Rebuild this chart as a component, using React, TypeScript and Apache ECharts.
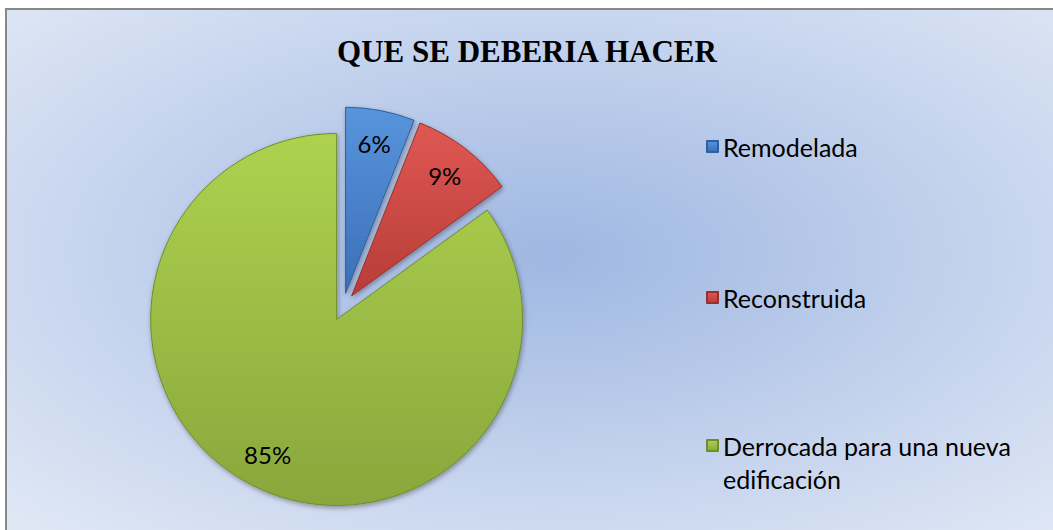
import React, { useEffect, useRef } from "react";
import * as echarts from "echarts";

const chartTitle = "QUE SE DEBERIA HACER";
const categories = ["Remodelada", "Reconstruida", "Derrocada para una nueva edificación"];
const values = [6, 9, 85];
const sliceColors = [
  { top: "#5894dc", bottom: "#3b6fb8", border: "#2f5f9f" },
  { top: "#df5853", bottom: "#b83c38", border: "#9a302d" },
  { top: "#add24f", bottom: "#89a73c", border: "#6f8d2c" },
];

const LABEL_FONT = "Lato, 'Noto Sans', sans-serif";

function grad(c: { top: string; bottom: string }) {
  return new echarts.graphic.LinearGradient(0, 0, 0, 1, [
    { offset: 0, color: c.top },
    { offset: 1, color: c.bottom },
  ]);
}

function wrapLegend(name: string) {
  if (name.length < 26) return name;
  const idx = name.lastIndexOf(" ");
  return "\n" + name.slice(0, idx) + "\n" + name.slice(idx + 1);
}

export default function App() {
  const ref = useRef<HTMLDivElement>(null);
  useEffect(() => {
    const chart = echarts.init(ref.current!, null, { renderer: "svg" });
    const center = [336, 297];
    const mainData = categories.map((name, i) => {
      const style = {
        color: grad(sliceColors[i]),
        borderColor: sliceColors[i].border,
        borderWidth: 1,
        shadowBlur: 5,
        shadowColor: "rgba(0,0,0,0.35)",
        shadowOffsetX: 1,
        shadowOffsetY: 2,
      };
      return { name, value: values[i], selected: true, itemStyle: style, select: { itemStyle: style } };
    });
    const labelData = categories.map((name, i) => ({
      name,
      value: values[i],
      selected: true,
    }));
    const legendTops = [120, 271, 386];
    chart.setOption({
      animation: false,
      backgroundColor: {
        type: "radial",
        x: 0.52,
        y: 0.47,
        r: 0.72,
        colorStops: [
          { offset: 0, color: "#9fb7e2" },
          { offset: 1, color: "#dfe7f5" },
        ],
      },
      title: {
        text: chartTitle,
        left: 520,
        top: 26,
        textAlign: "center",
        padding: 0,
        textStyle: {
          fontFamily: "'Liberation Serif', 'Times New Roman', serif",
          fontWeight: "bold",
          fontSize: 31,
          color: "#000",
        },
      },
      legend: categories.map((name, i) => ({
        data: [name],
        orient: "vertical",
        left: 699,
        top: legendTops[i],
        padding: 0,
        itemWidth: 11,
        itemHeight: 11,
        icon: "rect",
        selectedMode: false,
        formatter: wrapLegend,
        textStyle: {
          fontFamily: LABEL_FONT,
          fontSize: 25,
          lineHeight: 33,
          color: "#000",
        },
      })),
      series: [
        {
          type: "pie",
          center,
          radius: 186,
          startAngle: 90,
          clockwise: true,
          selectedMode: "multiple",
          selectedOffset: 14,
          label: { show: false },
          labelLine: { show: false },
          emphasis: { disabled: true },
          data: mainData,
        },
        {
          type: "pie",
          center,
          radius: [112, 186],
          startAngle: 90,
          clockwise: true,
          selectedMode: "multiple",
          selectedOffset: 14,
          silent: true,
          z: 5,
          avoidLabelOverlap: false,
          legendHoverLink: false,
          itemStyle: { color: "rgba(0,0,0,0)" },
          select: { itemStyle: { color: "rgba(0,0,0,0)" } },
          emphasis: { disabled: true },
          label: {
            show: true,
            position: "inside",
            formatter: "{c}%",
            fontFamily: LABEL_FONT,
            fontSize: 24,
            color: "#000",
          },
          labelLine: { show: false },
          data: labelData,
        },
      ],
    });
    return () => chart.dispose();
  }, []);
  return (
    <div style={{ position: "fixed", left: 0, top: 0, width: 1053, height: 530, overflow: "hidden", background: "#fff" }}>
      <div style={{ position: "absolute", left: 5, top: 8, width: 1048, height: 2, background: "#888" }} />
      <div style={{ position: "absolute", left: 5, top: 8, width: 2, height: 522, background: "#888" }} />
      <div ref={ref} style={{ position: "absolute", left: 7, top: 10, width: 1046, height: 520 }} />
    </div>
  );
}
